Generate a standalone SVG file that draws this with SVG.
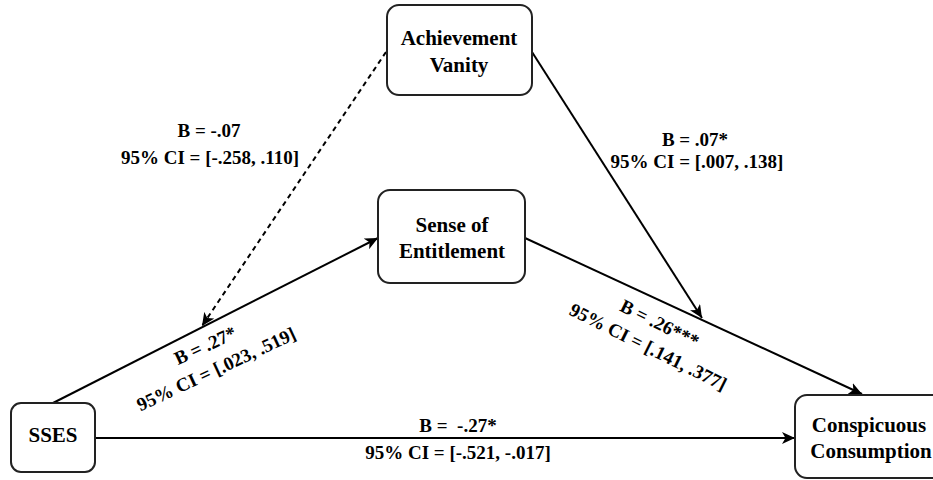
<svg xmlns="http://www.w3.org/2000/svg" width="933" height="480" viewBox="0 0 933 480">
<style>
.box{fill:#fff;stroke:#222;stroke-width:2}
.nt{font-family:"Liberation Serif","Times New Roman",serif;font-weight:bold;font-size:21px;fill:#000;text-anchor:middle}
.lt{font-family:"Liberation Serif","Times New Roman",serif;font-weight:bold;font-size:19px;fill:#000;text-anchor:middle;white-space:pre}
.ln{stroke:#000;stroke-width:2;fill:none}
.dash{stroke-dasharray:5 4}
</style>
<defs>
<marker id="arr" markerUnits="userSpaceOnUse" markerWidth="14" markerHeight="12" refX="13" refY="6" orient="auto" viewBox="0 0 14 12">
<path d="M0,0 L13,6 L0,12 L3.5,6 Z" fill="#000"/>
</marker>
</defs>
<rect width="933" height="480" fill="#fff"/>
<g id="connectors">
<line class="ln" x1="53" y1="403" x2="378" y2="238" marker-end="url(#arr)"/>
<line class="ln" x1="525" y1="238" x2="862" y2="394" marker-end="url(#arr)"/>
<line class="ln" x1="95" y1="438" x2="795" y2="438" marker-end="url(#arr)"/>
<line class="ln" x1="532" y1="52" x2="702" y2="318" marker-end="url(#arr)"/>
<line class="ln dash" x1="386" y1="52" x2="202" y2="326" marker-end="url(#arr)"/>
</g>
<g id="labels">
<text class="lt" x="209" y="137">B = -.07</text>
<text class="lt" x="210" y="164">95% CI = [-.258, .110]</text>
<text class="lt" x="695" y="146">B = .07*</text>
<text class="lt" x="697" y="168">95% CI = [.007, .138]</text>
<text class="lt" x="458" y="432">B =  -.27*</text>
<text class="lt" x="458" y="459">95% CI = [-.521, -.017]</text>
<g transform="translate(205,345) rotate(-25)">
<text class="lt" x="0" y="7">B = .27*</text>
<text class="lt" x="0" y="33">95% CI = [.023, .519]</text>
</g>
<g transform="translate(660,323) rotate(26.5)">
<text class="lt" x="0" y="7">B = .26***</text>
<text class="lt" x="0" y="33">95% CI = [.141, .377]</text>
</g>
</g>
<g id="achievement">
<rect class="box" x="387" y="5" width="145" height="90" rx="12"/>
<text class="nt" x="459" y="45">Achievement</text>
<text class="nt" x="459" y="72">Vanity</text>
</g>
<g id="entitlement">
<rect class="box" x="378" y="190" width="147" height="93" rx="12"/>
<text class="nt" x="452" y="232">Sense of</text>
<text class="nt" x="452" y="258">Entitlement</text>
</g>
<g id="sses">
<rect class="box" x="11" y="403" width="84" height="69" rx="10"/>
<text class="nt" x="53" y="442">SSES</text>
</g>
<g id="conspicuous">
<rect class="box" x="795" y="395" width="150" height="83" rx="12"/>
<text class="nt" x="869" y="432">Conspicuous</text>
<text class="nt" x="871" y="458">Consumption</text>
</g>
</svg>
